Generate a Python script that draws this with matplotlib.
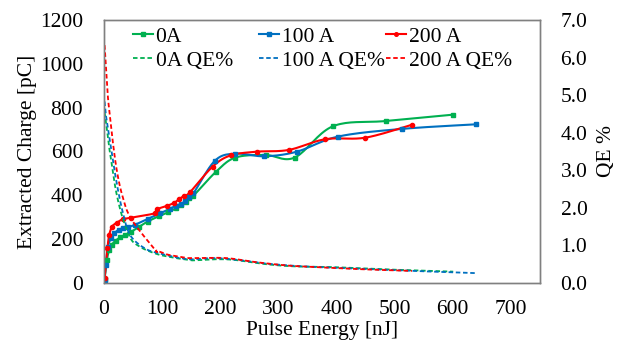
import numpy as np
import matplotlib
matplotlib.use('Agg')
import matplotlib.pyplot as plt
from matplotlib.lines import Line2D
from matplotlib.legend import Legend

plt.rcParams['font.family'] = 'Liberation Serif'

# Pulse energy [nJ] and extracted charge [pC]
e_0a = [1, 5, 9, 13, 20, 28, 36, 47, 60, 75, 95, 111, 124, 133, 141, 147, 154, 193, 226, 278, 328, 394, 485, 601]
q_0a = [20, 105, 150, 173, 193, 208, 219, 234, 255, 280, 305, 323, 341, 356, 371, 386, 398, 508, 572, 584, 572, 715, 739, 768]
qe_0a = [4.55, 4.1, 3.6, 3.2, 2.5, 1.95, 1.55, 1.15, 0.98, 0.86, 0.75, 0.70, 0.66, 0.64, 0.62, 0.61, 0.60, 0.63, 0.61, 0.50, 0.44, 0.42, 0.36, 0.30]

e_100a = [1, 3, 7, 12, 18, 25, 32, 41, 53, 75, 97, 113, 124, 133, 140, 147, 154, 191, 226, 276, 332, 403, 513, 641]
q_100a = [14, 82, 166, 204, 227, 242, 249, 254, 265, 292, 318, 338, 353, 360, 376, 394, 409, 558, 590, 578, 599, 668, 703, 724]
qe_100a = [4.83, 4.5, 4.1, 3.6, 3.0, 2.4, 1.9, 1.4, 1.12, 0.88, 0.78, 0.72, 0.68, 0.66, 0.64, 0.63, 0.63, 0.66, 0.62, 0.52, 0.45, 0.40, 0.33, 0.26]

e_200a = [1, 6, 9, 14, 22, 32, 47, 88, 91, 108, 121, 129, 137, 148, 187, 218, 263, 318, 381, 450, 530]
q_200a = [21, 161, 219, 257, 275, 290, 298, 318, 336, 351, 366, 382, 396, 414, 531, 582, 599, 607, 656, 663, 722]
qe_200a = [6.33, 5.1, 4.6, 3.9, 3.0, 2.3, 1.7, 0.88, 0.86, 0.76, 0.72, 0.70, 0.68, 0.66, 0.67, 0.65, 0.55, 0.46, 0.41, 0.36, 0.32]

green, blue, red = '#00B050', '#0070C0', '#FF0000'


def smooth(x, y, xs, ys, n=20):
    # Excel-style smoothed line (Bezier through the points), in screen-like units
    p = np.column_stack([np.asarray(x, float) / xs, np.asarray(y, float) / ys])
    p = np.vstack([p[0], p, p[-1]])
    out = []
    t = np.linspace(0, 1, n)[:, None]
    for i in range(1, len(p) - 2):
        p0, p1 = p[i], p[i + 1]
        c1 = p0 + (p[i + 1] - p[i - 1]) / 6
        c2 = p1 - (p[i + 2] - p[i]) / 6
        seg = (1 - t) ** 3 * p0 + 3 * (1 - t) ** 2 * t * c1 + 3 * (1 - t) * t ** 2 * c2 + t ** 3 * p1
        out.append(seg)
    out = np.vstack(out)
    return out[:, 0] * xs, out[:, 1] * ys


fig = plt.figure(figsize=(6.19, 3.51), dpi=100)
ax = fig.add_axes([0.168, 0.194, 0.704, 0.749])
ax2 = ax.twinx()

XS, YS1, YS2 = 750 / 436, 1200 / 263, 7 / 263

for e, q, c, m, ms in [(e_0a, q_0a, green, 's', 3.2), (e_100a, q_100a, blue, 's', 3.2), (e_200a, q_200a, red, 'o', 3.0)]:
    sx, sy = smooth(e, q, XS, YS1)
    ax.plot(sx, sy, color=c, lw=1.5, zorder=3)
    ax.plot(e, q, ls='none', marker=m, ms=ms, color=c, zorder=4)

for e, qe, c in [(e_0a, qe_0a, green), (e_100a, qe_100a, blue), (e_200a, qe_200a, red)]:
    sx, sy = smooth(e, qe, XS, YS2)
    ax2.plot(sx, sy, color=c, lw=1.3, ls=(0, (2.5, 1.5)), zorder=2)

ax.set_xlim(0, 750)
ax.set_ylim(0, 1200)
ax2.set_ylim(0, 7)
ax.set_xticks(range(0, 800, 100))
ax.set_yticks(range(0, 1400, 200))
ax2.set_yticks(np.arange(0, 7.5, 1.0))
ax2.set_yticklabels(['%.1f' % v for v in np.arange(0, 7.5, 1.0)])

fs = 15.5
for a in (ax, ax2):
    a.tick_params(length=0, labelsize=fs)
    for s in a.spines.values():
        s.set_color('#808080')
        s.set_linewidth(1.0)
ax.tick_params(axis='y', pad=15)
ax.tick_params(axis='x', pad=12)
ax2.tick_params(axis='y', pad=15)

ax.set_xlabel('Pulse Energy [nJ]', fontsize=fs, labelpad=2)
ax.set_ylabel('Extracted Charge [pC]', fontsize=fs, labelpad=2)
ax2.set_ylabel('QE %', fontsize=fs, labelpad=7)

labels = [('0A', green, 's', 3.0), ('100 A', blue, 's', 3.0), ('200 A', red, 'o', 2.6)]
xpos = [0.0665, 0.3555, 0.647]
for (lab, c, m, ms), xp in zip(labels, xpos):
    hs = [Line2D([], [], color=c, lw=1.5, marker=m, ms=ms),
          Line2D([], [], color=c, lw=1.3, ls=(0, (2.5, 1.5)))]
    leg = Legend(ax2, hs, [lab, lab + ' QE%'], loc='upper left', bbox_to_anchor=(xp, 0.975),
                 frameon=False, fontsize=fs, handlelength=0.95, handletextpad=0.1,
                 labelspacing=0.2, borderaxespad=0, borderpad=0)
    ax2.add_artist(leg)

fig.savefig('out.png', dpi=100)
